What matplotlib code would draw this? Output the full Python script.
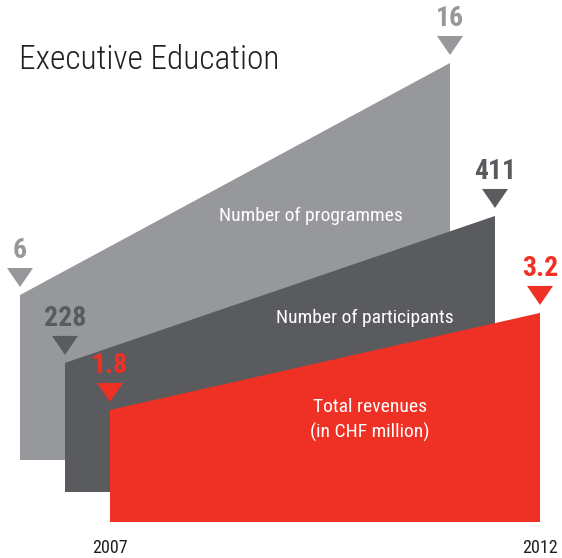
import matplotlib
matplotlib.use("Agg")
import matplotlib.pyplot as plt
from matplotlib.patches import Polygon

FONT = ["Roboto Condensed", "DejaVu Sans"]

# data
years = [2007, 2012]
series = ["Number of programmes", "Number of participants", "Total revenues\n(in CHF million)"]
start_values = [6, 228, 1.8]
end_values = [16, 411, 3.2]
value_labels_start = ["6", "228", "1.8"]
value_labels_end = ["16", "411", "3.2"]
colors = ["#97989b", "#5a5b5e", "#ee3124"]

# layout (pixel units of the canvas)
px_per_unit = [23.2, 0.803, 69.3]
px_offset = [25.8, -54.0, -12.7]
x_left = [20, 65, 110]
bottoms = [460, 492, 522]
width = 430
label_pos = [(311, 216), (365, 318), (370, 420)]

fig = plt.figure(figsize=(5.62, 5.58), dpi=100)
ax = fig.add_axes([0, 0, 1, 1])
ax.set_xlim(0, 562)
ax.set_ylim(558, 0)
ax.axis("off")

for i in range(3):
    x0 = x_left[i]
    x1 = x0 + width
    b = bottoms[i]
    h0 = px_offset[i] + px_per_unit[i] * start_values[i]
    h1 = px_offset[i] + px_per_unit[i] * end_values[i]
    poly = Polygon([(x0, b), (x0, b - h0), (x1, b - h1), (x1, b)],
                   closed=True, facecolor=colors[i], edgecolor="none", zorder=i + 1)
    ax.add_patch(poly)

    # markers and value labels
    for x, h, lab in [(x0, h0, value_labels_start[i]), (x1, h1, value_labels_end[i])]:
        tip = b - h - 8
        tri = Polygon([(x - 13, tip - 19), (x + 13, tip - 19), (x, tip)],
                      closed=True, facecolor=colors[i], edgecolor="none", zorder=5)
        ax.add_patch(tri)
        ax.text(x, tip - 19 - 17, lab, ha="center", va="center", color=colors[i],
                fontsize=20, fontweight="bold", family=FONT, zorder=6)

    lx, ly = label_pos[i]
    ax.text(lx, ly, series[i], ha="center", va="center", color="white",
            fontsize=14, family=FONT, linespacing=1.45, zorder=6)

# year labels under the front shape
ax.text(x_left[2], 548, str(years[0]), ha="center", va="center", fontsize=13,
        family=FONT, color="#231f20")
ax.text(x_left[2] + width, 548, str(years[1]), ha="center", va="center", fontsize=13,
        family=FONT, color="#231f20")

ax.text(19, 60, "Executive Education", ha="left", va="center", fontsize=24,
        fontweight="light", family=FONT, color="#231f20")

fig.savefig("out.png", dpi=100)
